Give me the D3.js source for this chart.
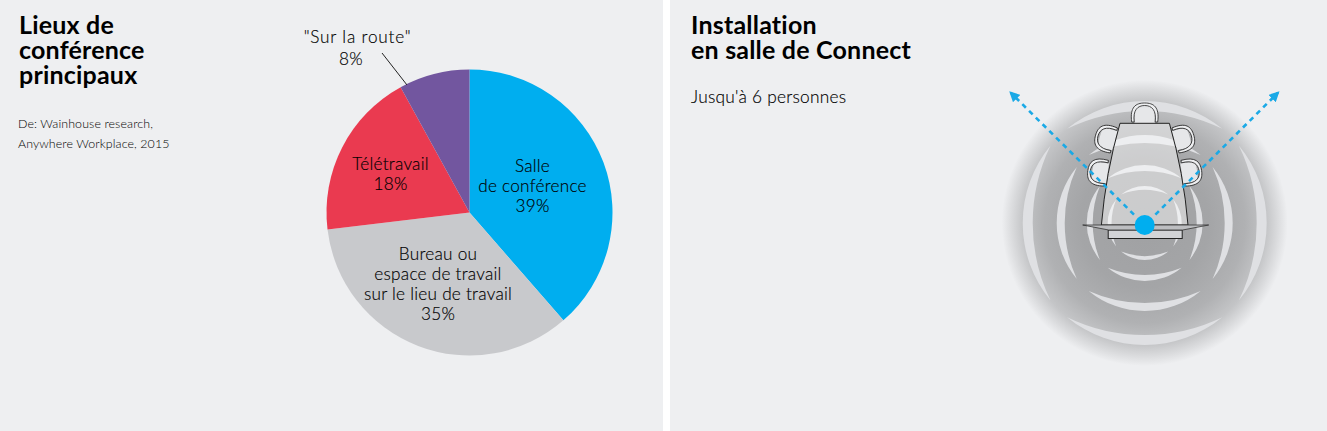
<!DOCTYPE html>
<html>
<head>
<meta charset="utf-8">
<script src="https://cdnjs.cloudflare.com/ajax/libs/d3/7.8.5/d3.min.js"></script>
<style>
  html, body { margin: 0; padding: 0; background: #fff; }
  svg { display: block; }
  text { font-family: Lato, "Open Sans", sans-serif; fill: #000; }
  .title { font-size: 25px; font-weight: 700; letter-spacing: 0.2px; }
  .small { font-size: 12.4px; font-weight: 300; letter-spacing: 0.1px; }
  .label { font-size: 17.2px; text-anchor: middle; font-weight: 300; letter-spacing: 0.25px; stroke: #000; stroke-width: 0.15px; }
</style>
</head>
<body>
<script>
const width = 1327, height = 431;

// pie data: labels as printed, slices
const places = ["Salle de conférence", "Bureau ou espace de travail", "Télétravail", "Sur la route"];
const percentLabels = ["39%", "35%", "18%", "8%"];
const shares = [38.6, 34.5, 18.9, 8];
const placeColors = ["#00aeef", "#c8c9cc", "#ea3a50", "#72569f"];

// rings of the room picture: outer radius and thickness
const ringRadius = [122, 88, 58, 37];
const ringThickness = [10, 8, 6, 4];

const svg = d3.select("body").append("svg")
    .attr("width", width)
    .attr("height", height);

// panels
svg.append("rect").attr("width", 663).attr("height", height).attr("fill", "#eeeff1");
svg.append("rect").attr("x", 670).attr("width", 657).attr("height", height).attr("fill", "#eeeff1");

// one text element per block, lines as tspans
function addLines(lines, x, y0, step, cls) {
    const t = svg.append("text").attr("class", cls).attr("x", x).attr("y", y0);
    lines.forEach((s, i) => {
        t.append("tspan").attr("x", x).attr("y", y0 + i * step).text(s);
    });
    return t;
}

// left titles
addLines(["Lieux de", "conférence", "principaux"], 19, 34, 25, "title");
addLines(["De: Wainhouse research,", "Anywhere Workplace, 2015"], 18, 128, 20, "small");

// pie
const pieG = svg.append("g").attr("transform", "translate(469.5,212.5)");
const pie = d3.pie().sort(null)(shares);
const arc = d3.arc().innerRadius(0).outerRadius(143);
pieG.selectAll("path")
    .data(pie)
    .enter()
    .append("path")
    .attr("d", arc)
    .attr("fill", (d, i) => placeColors[i]);

svg.append("line")
    .attr("x1", 382).attr("y1", 53).attr("x2", 407).attr("y2", 85)
    .attr("stroke", "#222").attr("stroke-width", 1);

addLines(["Salle", "de conférence", percentLabels[0]], 532.5, 172, 20, "label");
addLines(["Bureau ou", "espace de travail", "sur le lieu de travail", percentLabels[1]], 438, 260, 20, "label");
addLines(["Télétravail", percentLabels[2]], 390.5, 170, 20, "label");
addLines(["\"Sur la route\""], 357.5, 43, 22, "label").style("letter-spacing", "0.8px");
addLines([percentLabels[3]], 351, 65, 22, "label");

// right titles
addLines(["Installation", "en salle de Connect"], 691, 34, 25, "title");
svg.append("text").attr("x", 691).attr("y", 103)
    .style("font-size", "17.3px").style("font-weight", 300).style("letter-spacing", "0.25px")
    .style("stroke", "#000").style("stroke-width", "0.15px")
    .text("Jusqu'à 6 personnes");

// room picture
const cx = 1144.7, cy = 223;
const room = svg.append("g").attr("transform", `translate(${cx},${cy})`);

const grad = svg.append("defs").append("radialGradient").attr("id", "glow");
[[0, "#a0a1a3"], [0.45, "#a4a5a7"], [0.7, "#b0b1b3"], [0.85, "#c4c5c7"], [0.93, "#dadbdd"], [1, "#eeeff1"]].forEach(s => {
    grad.append("stop").attr("offset", s[0]).attr("stop-color", s[1]);
});
room.append("circle").attr("r", 143).attr("fill", "url(#glow)");

// four crescents per ring, the gaps sit on the diagonals
function crescent(r, t, midAngle, halfSpan) {
    const a0 = midAngle - halfSpan, a1 = midAngle + halfSpan;
    const x0 = r * Math.sin(a0), y0 = -r * Math.cos(a0);
    const x1 = r * Math.sin(a1), y1 = -r * Math.cos(a1);
    const chord = r * Math.sin(halfSpan);
    const sag = r * (1 - Math.cos(halfSpan)) - t;
    const r2 = (chord * chord + sag * sag) / (2 * sag);
    return `M${x0},${y0}A${r},${r} 0 0 1 ${x1},${y1}A${r2},${r2} 0 0 0 ${x0},${y0}Z`;
}
const rad = Math.PI / 180;
ringRadius.forEach((r, i) => {
    [0, 90, 180, 270].forEach(mid => {
        room.append("path")
            .attr("d", crescent(r, ringThickness[i], mid * rad, 39.5 * rad))
            .attr("fill", "#dfe0e3");
    });
});

// chairs
function chair(x, y, angle) {
    const g = room.append("g").attr("transform", `translate(${x},${y}) rotate(${angle})`);
    g.append("path").attr("d", "M-10,-4C-6,-6 6,-6 10,-4L10,10L-10,10Z").attr("fill", "#e6e7e9");
    g.append("path")
        .attr("d", "M-13,9C-15,-6 -9,-10 0,-10C9,-10 15,-6 13,9L10.5,9C12,-3 7,-7.5 0,-7.5C-7,-7.5 -12,-3 -10.5,9Z")
        .attr("fill", "#eeeff1").attr("stroke", "#222").attr("stroke-width", 0.8);
}
chair(0, -110, 0);
chair(-39.5, -85, -74);
chair(-47, -51, -82);
chair(39.5, -85, 74);
chair(47, -51, 82);

// table
room.append("path")
    .attr("d", "M-24.7,-99.7L24.7,-99.7Q39,-50 43.3,2L-43.3,2Q-39,-50 -24.7,-99.7Z")
    .attr("fill", "#fff").attr("fill-opacity", 0.45)
    .attr("stroke", "#222").attr("stroke-width", 1);
room.append("rect")
    .attr("x", -36.5).attr("y", 7).attr("width", 74).attr("height", 8.5)
    .attr("fill", "#d3d4d7").attr("stroke", "#222").attr("stroke-width", 1);
room.append("path")
    .attr("d", "M-62,2L64,2L38,7L-36,7Z")
    .attr("fill", "#bdbec1").attr("stroke", "#333").attr("stroke-width", 0.8);

// view arrows
svg.select("defs").append("marker")
    .attr("id", "head").attr("viewBox", "0 0 10 10").attr("refX", 8).attr("refY", 5)
    .attr("markerWidth", 4).attr("markerHeight", 4).attr("orient", "auto")
    .attr("markerUnits", "strokeWidth")
    .append("path").attr("d", "M0,0L10,5L0,10Z").attr("fill", "#1aa9e6");
[[-134, -130.3], [133.3, -130.3]].forEach(p => {
    room.append("line")
        .attr("x1", p[0] * 0.08).attr("y1", 2 + p[1] * 0.08).attr("x2", p[0]).attr("y2", p[1])
        .attr("stroke", "#1aa9e6").attr("stroke-width", 2.6).attr("stroke-dasharray", "5 4.5")
        .attr("marker-end", "url(#head)");
});
room.append("circle").attr("cy", 2).attr("r", 10).attr("fill", "#00aeef");
</script>
</body>
</html>
